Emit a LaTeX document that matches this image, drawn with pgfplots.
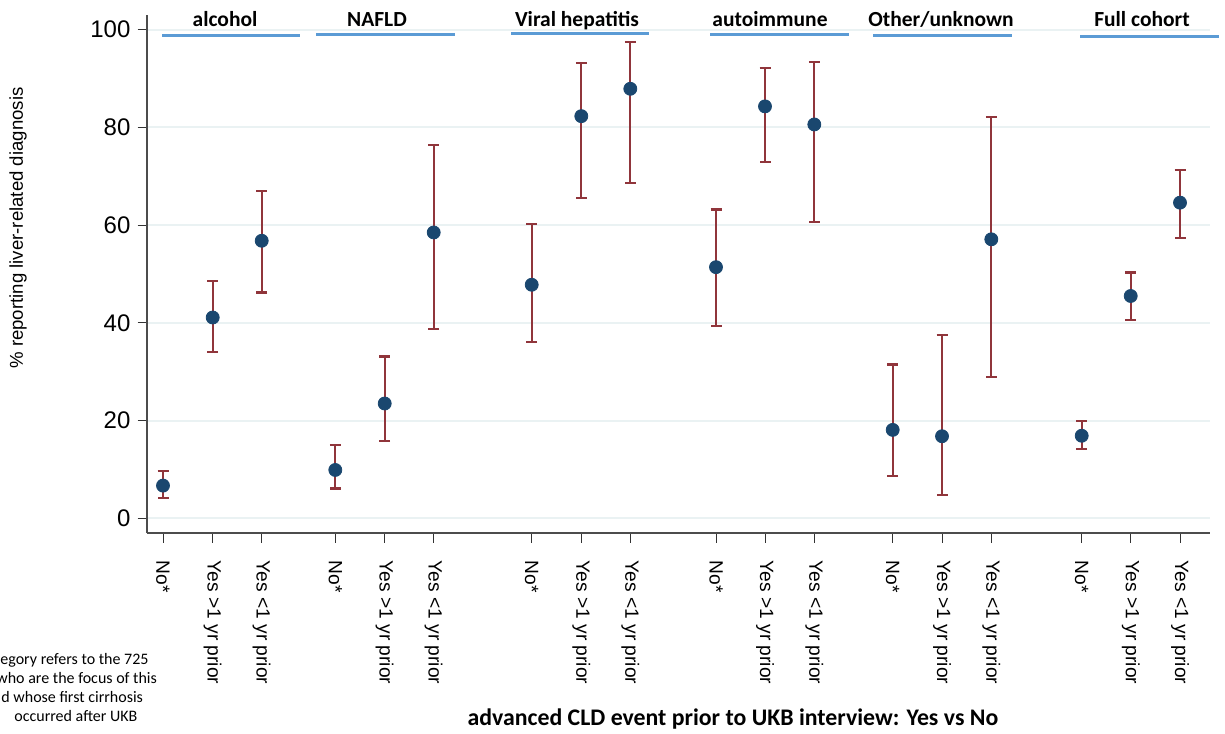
\documentclass[border=0pt]{standalone}
\usepackage{fontspec}
\setmainfont{Liberation Sans}
\newfontfamily\carlito{Carlito}
\usepackage{pgfplots}
\usepackage{pgfplotstable}
\pgfplotsset{compat=1.18}
\definecolor{navy}{HTML}{1A476F}
\definecolor{maroon}{HTML}{90353B}
\definecolor{gridc}{HTML}{EAF2F3}
\definecolor{hdr}{HTML}{5B9BD5}

\pgfplotstableread{
x      y     ep    em
163    6.7   3.0   2.5
212.7  41.1  7.4   7.1
261.7  56.8  10.2  10.6
335.3  9.9   5.1   3.8
384.7  23.5  9.6   7.7
433.7  58.5  17.9  19.7
531.7  47.8  12.4  11.7
581.3  82.3  10.9  16.8
630.3  87.9  9.5   19.2
716    51.4  11.8  12.1
765    84.3  7.9   11.4
814.3  80.6  12.8  20.0
892.7  18.1  13.4  9.4
942    16.8  20.7  12.0
991.3  57.1  25.1  28.1
1081.7 16.9  3.0   2.7
1130.7 45.5  4.8   4.9
1180   64.6  6.7   7.3
}\datatable

\begin{document}
\begin{tikzpicture}
\useasboundingbox (0,0) rectangle (612.5pt,-366.5pt);
\begin{axis}[
  at={(73.5pt,-266.5pt)}, anchor=south west,
  scale only axis, width=531.5pt, height=259pt,
  xmin=147, xmax=1210, ymin=-3, ymax=103,
  axis x line*=bottom, axis y line*=left,
  axis line style={black!70, line width=0.6pt},
  ytick={0,20,...,100},
  xtick={163,212.7,261.7,335.3,384.7,433.7,531.7,581.3,630.3,716,765,814.3,892.7,942,991.3,1081.7,1130.7,1180},
  xticklabels={No*,Yes >1 yr prior,Yes <1 yr prior,No*,Yes >1 yr prior,Yes <1 yr prior,No*,Yes >1 yr prior,Yes <1 yr prior,No*,Yes >1 yr prior,Yes <1 yr prior,No*,Yes >1 yr prior,Yes <1 yr prior,No*,Yes >1 yr prior,Yes <1 yr prior},
  tick align=outside,
  major tick length=4.75pt,
  tick style={black!80, line width=0.5pt},
  ymajorgrids, grid style={gridc, line width=1pt},
  yticklabel style={font=\fontsize{12}{14}\selectfont, /pgf/number format/assume math mode=true},
  xticklabel style={font=\fontsize{9.6}{11}\selectfont, rotate=-90, anchor=west},
  xticklabel shift=5.5pt,
  clip=false,
]
\addplot[only marks, mark=*, mark size=3.25pt, mark options={fill=navy, draw=navy},
  error bars/.cd, y dir=both, y explicit,
  error bar style={maroon, line width=1.1pt},
  error mark=-,
  error mark options={rotate=90, maroon, line width=1.1pt, mark size=2.75pt}]
  table[x=x, y=y, y error plus=ep, y error minus=em] {\datatable};
\end{axis}
\begin{scope}[x=0.5pt,y=-0.5pt]
\draw[hdr, line width=1.5pt] (162,36) -- (300,36);
\draw[hdr, line width=1.5pt] (316,35) -- (455,35);
\draw[hdr, line width=1.5pt] (511,34) -- (649,34);
\draw[hdr, line width=1.5pt] (710,35) -- (849,35);
\draw[hdr, line width=1.5pt] (873,36) -- (1012,36);
\draw[hdr, line width=1.5pt] (1080,37) -- (1219,37);
\tikzset{hd/.style={font=\carlito\bfseries\fontsize{10.75}{12}\selectfont, anchor=base, inner sep=0pt}}
\node[hd] at (225,27) {alcohol};
\node[hd] at (377,27) {NAFLD};
\node[hd] at (577,27) {Viral hepatitis};
\node[hd] at (770,27) {autoimmune};
\node[hd] at (941,27) {Other/unknown};
\node[hd] at (1142,27) {Full cohort};
\node[rotate=90, font=\fontsize{9.3}{11}\selectfont] at (18,228) {\% reporting liver-related diagnosis};
\node[font=\carlito\bfseries\fontsize{11.9}{13}\selectfont, anchor=base, inner sep=0pt] at (733,725) {advanced CLD event prior to UKB interview: Yes vs No};
\tikzset{fn/.style={font=\carlito\fontsize{8}{9.5}\selectfont, anchor=base west, inner sep=0pt}}
\node[fn] at (0,664) {egory refers to the 725};
\node[fn] at (-4,683) {who are the focus of this};
\node[fn] at (1,702) {d whose first cirrhosis};
\node[fn] at (14,721) {occurred after UKB};
\end{scope}
\end{tikzpicture}
\end{document}
